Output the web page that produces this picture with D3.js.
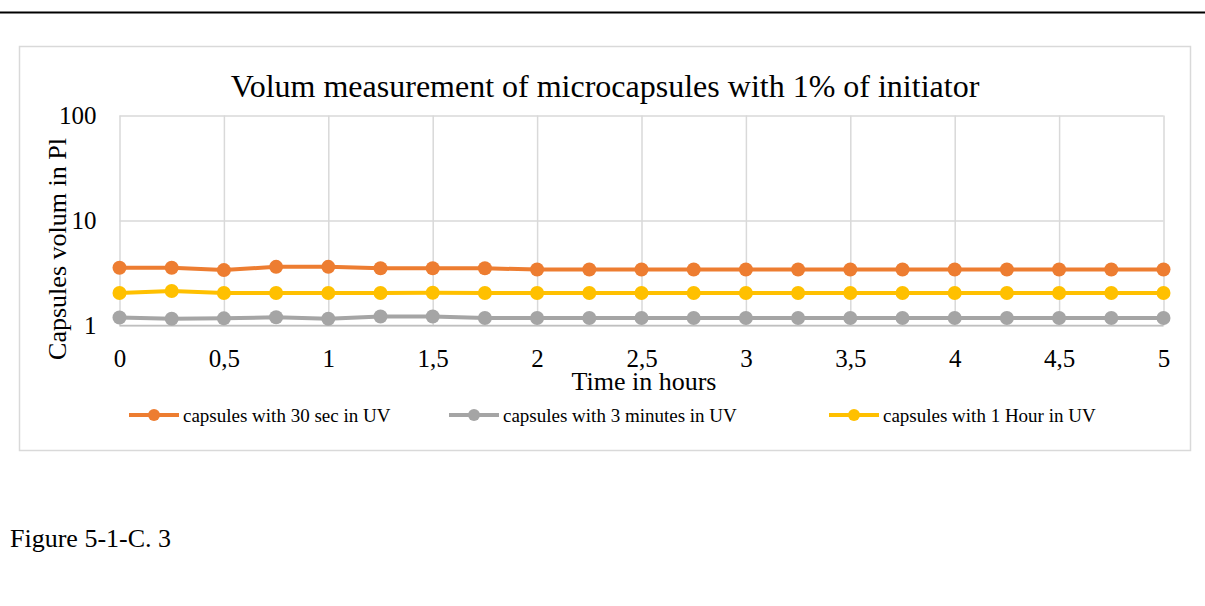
<!DOCTYPE html>
<html>
<head>
<meta charset="utf-8">
<script src="https://cdn.jsdelivr.net/npm/d3@7"></script>
<style>
  html, body { margin: 0; padding: 0; background: #fff; }
  svg { display: block; }
  text { font-family: "Liberation Serif", "Times New Roman", serif; fill: #000; }
</style>
</head>
<body>
<svg id="chart" width="1205" height="606"></svg>
<script>
const hours = [0, 0.25, 0.5, 0.75, 1, 1.25, 1.5, 1.75, 2, 2.25, 2.5, 2.75, 3, 3.25, 3.5, 3.75, 4, 4.25, 4.5, 4.75, 5];
const sec30 = [3.55, 3.55, 3.37, 3.62, 3.62, 3.51, 3.51, 3.51, 3.41, 3.41, 3.41, 3.41, 3.41, 3.41, 3.41, 3.41, 3.41, 3.41, 3.41, 3.41, 3.41];
const min3 = [1.19, 1.16, 1.17, 1.2, 1.16, 1.22, 1.22, 1.18, 1.18, 1.18, 1.18, 1.18, 1.18, 1.18, 1.18, 1.18, 1.18, 1.18, 1.18, 1.18, 1.18];
const hour1 = [2.04, 2.13, 2.04, 2.04, 2.04, 2.04, 2.05, 2.04, 2.04, 2.04, 2.04, 2.04, 2.04, 2.04, 2.04, 2.04, 2.04, 2.04, 2.04, 2.04, 2.04];
const seriesNames = ["capsules with 30 sec in UV", "capsules with 3 minutes in UV", "capsules with 1 Hour in UV"];
const seriesColors = ["#ED7D31", "#A5A5A5", "#FFC000"];
const xTicks = [0, 0.5, 1, 1.5, 2, 2.5, 3, 3.5, 4, 4.5, 5];
const yTicks = [1, 10, 100];
const titleText = "Volum measurement of microcapsules with 1% of initiator";
const xTitle = "Time in hours";
const yTitle = "Capsules volum in Pl";
const caption = "Figure 5-1-C. 3";

const series = [sec30, min3, hour1];

const svg = d3.select("#chart");

// top rule
svg.append("line").attr("x1", 0).attr("x2", 1205).attr("y1", 12.5).attr("y2", 12.5)
  .attr("stroke", "#000").attr("stroke-width", 2);

// chart border
svg.append("rect").attr("x", 19.5).attr("y", 46.5).attr("width", 1171).attr("height", 404)
  .attr("fill", "#fff").attr("stroke", "#d9d9d9").attr("stroke-width", 1.5);

const x = d3.scaleLinear().domain([0, 5]).range([119.5, 1163.5]);
const y = d3.scaleLog().domain([1, 100]).range([325.5, 115.5]);

// gridlines
const gx = svg.append("g").attr("transform", `translate(0,${y(1)})`)
  .call(d3.axisBottom(x).tickValues(xTicks).tickSize(-(y(1) - y(100))).tickFormat(""));
gx.select(".domain").remove();
gx.selectAll(".tick line").attr("stroke", "#d9d9d9").attr("stroke-width", 1.5);

const gy = svg.append("g").attr("transform", `translate(${x(0)},0)`)
  .call(d3.axisLeft(y).tickValues(yTicks).tickSize(-(x(5) - x(0))).tickFormat(""));
gy.select(".domain").remove();
gy.selectAll(".tick line").attr("stroke", "#d9d9d9").attr("stroke-width", 1.5);

// axis line bottom
svg.append("line").attr("x1", x(0)).attr("x2", x(5)).attr("y1", y(1)).attr("y2", y(1))
  .attr("stroke", "#bfbfbf").attr("stroke-width", 1.5);

// tick labels
const xl = svg.append("g").attr("transform", `translate(0,${y(1)})`)
  .call(d3.axisBottom(x).tickValues(xTicks).tickSize(0).tickPadding(0)
    .tickFormat(d => String(d).replace(".", ",")));
xl.select(".domain").remove();
xl.selectAll("text").attr("font-size", 25).attr("font-family", "Liberation Serif")
  .attr("dy", null).attr("y", 41).attr("fill", "#000");

const yl = svg.append("g").attr("transform", `translate(${x(0)},0)`)
  .call(d3.axisLeft(y).tickValues(yTicks).tickSize(0).tickPadding(0).tickFormat(d3.format("d")));
yl.select(".domain").remove();
yl.selectAll("text").attr("font-size", 25).attr("font-family", "Liberation Serif")
  .attr("x", -23).attr("dy", "0.33em").attr("fill", "#000");

// title
svg.append("text").attr("x", 605).attr("y", 97).attr("text-anchor", "middle")
  .attr("font-size", 32).text(titleText);

svg.append("text").attr("x", 644).attr("y", 390).attr("text-anchor", "middle")
  .attr("font-size", 26).text(xTitle);

svg.append("text").attr("transform", `translate(66,249) rotate(-90)`)
  .attr("text-anchor", "middle").attr("font-size", 26).text(yTitle);

// series
const line = d3.line().x((d, i) => x(hours[i])).y(d => y(d));
series.forEach((vals, si) => {
  const g = svg.append("g");
  g.append("path").datum(vals).attr("d", line).attr("fill", "none")
    .attr("stroke", seriesColors[si]).attr("stroke-width", 4).attr("stroke-linejoin", "round");
  g.selectAll("circle").data(vals).join("circle")
    .attr("cx", (d, i) => x(hours[i])).attr("cy", d => y(d)).attr("r", 7)
    .attr("fill", seriesColors[si]);
});

// legend
const legendX = [129, 449, 829];
seriesNames.forEach((name, i) => {
  const g = svg.append("g").attr("transform", `translate(${legendX[i]},415)`);
  g.append("line").attr("x1", 0).attr("x2", 50).attr("y1", 0).attr("y2", 0)
    .attr("stroke", seriesColors[i]).attr("stroke-width", 4);
  g.append("circle").attr("cx", 25).attr("cy", 0).attr("r", 6).attr("fill", seriesColors[i]);
  g.append("text").attr("x", 54).attr("y", 6.5).attr("font-size", 19).text(name);
});

// caption
svg.append("text").attr("x", 10).attr("y", 547).attr("font-size", 26).text(caption);
</script>
</body>
</html>
